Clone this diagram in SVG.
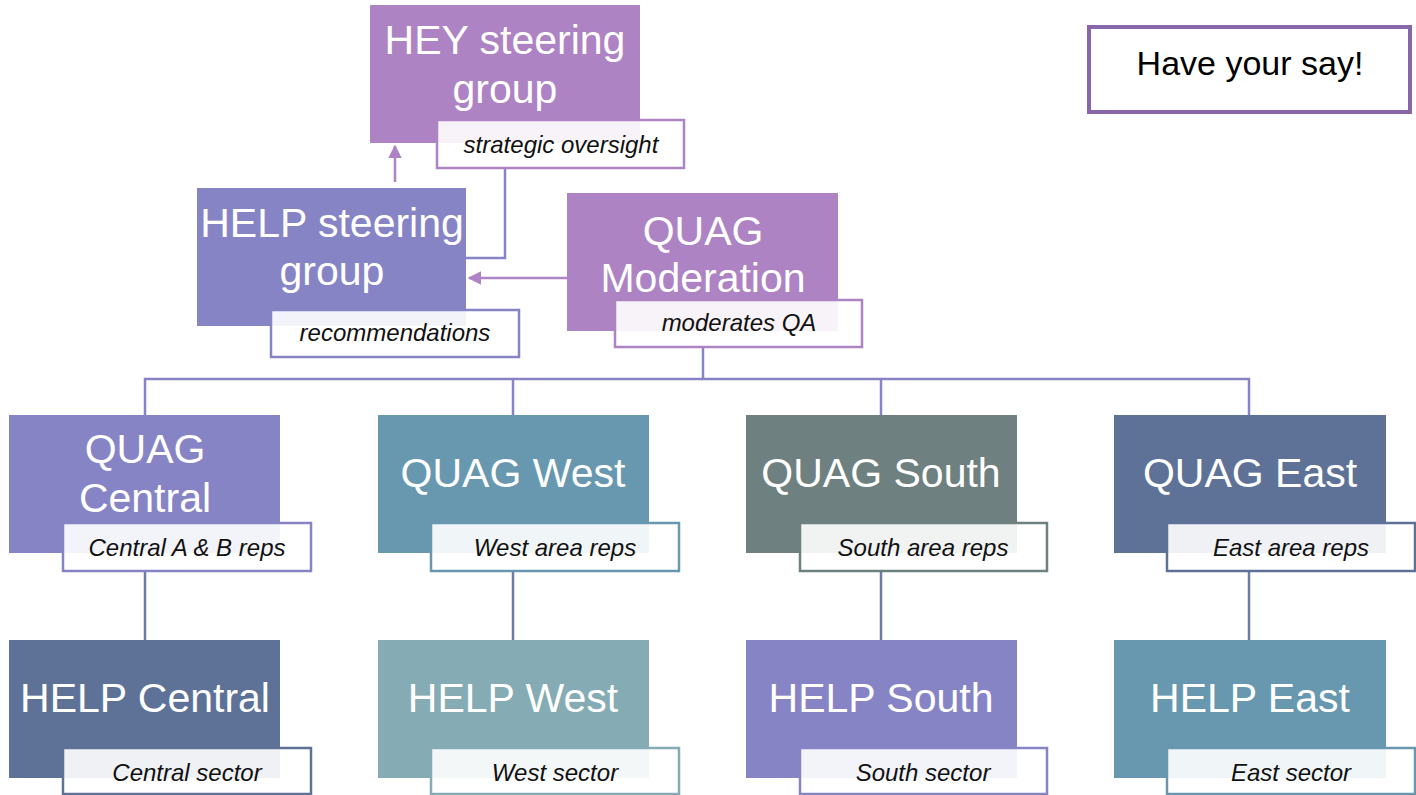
<svg xmlns="http://www.w3.org/2000/svg" width="1416" height="795" viewBox="0 0 1416 795">
<style>
.t{font-family:"Liberation Sans",Arial,sans-serif;font-size:41px;fill:#fff;text-anchor:middle}
.l{font-family:"Liberation Sans",Arial,sans-serif;font-size:24px;font-style:italic;fill:#111;text-anchor:middle}
.lb{fill:#fff;fill-opacity:0.9;stroke-width:2.5}
.c{fill:none;stroke-width:2.5}
</style>
<defs>
<marker id="ah" viewBox="0 0 10 10" refX="9" refY="5" markerWidth="5.5" markerHeight="5.5" orient="auto-start-reverse" markerUnits="strokeWidth">
<path d="M0,0 L10,5 L0,10 z" fill="#AD83C4"/>
</marker>
</defs>
<rect width="1416" height="795" fill="#fff"/>

<g id="connectors">
<line class="c" x1="395" y1="182" x2="395" y2="146" stroke="#AD83C4" marker-end="url(#ah)"/>
<polyline class="c" points="505,168 505,258 466,258" stroke="#8784C6"/>
<line class="c" x1="567" y1="278" x2="469" y2="278" stroke="#AD83C4" marker-end="url(#ah)"/>
<polyline class="c" points="703,347 703,379" stroke="#8784C6"/>
<polyline class="c" points="145,415 145,379 1249,379 1249,415" stroke="#8784C6"/>
<line class="c" x1="513" y1="379" x2="513" y2="415" stroke="#8784C6"/>
<line class="c" x1="881" y1="379" x2="881" y2="415" stroke="#8784C6"/>
<line class="c" x1="145" y1="572" x2="145" y2="640" stroke="#6A7BA4"/>
<line class="c" x1="513" y1="572" x2="513" y2="640" stroke="#6A7BA4"/>
<line class="c" x1="881" y1="572" x2="881" y2="640" stroke="#6A7BA4"/>
<line class="c" x1="1249" y1="572" x2="1249" y2="640" stroke="#6A7BA4"/>
</g>

<g id="hey-steering">
<rect x="370" y="5" width="270" height="138" fill="#AD83C4"/>
<text class="t" x="505" y="54">HEY steering</text>
<text class="t" x="505" y="103">group</text>
<rect class="lb" x="437" y="120" width="247" height="48" stroke="#AD83C4"/>
<text class="l" x="561" y="153">strategic oversight</text>
</g>

<g id="help-steering">
<rect x="197" y="188" width="269" height="138" fill="#8784C6"/>
<text class="t" x="332" y="237">HELP steering</text>
<text class="t" x="332" y="285">group</text>
<rect class="lb" x="271" y="310" width="248" height="47" stroke="#8784C6"/>
<text class="l" x="395" y="341">recommendations</text>
</g>

<g id="quag-moderation">
<rect x="567" y="193" width="271" height="138" fill="#AD83C4"/>
<text class="t" x="703" y="245">QUAG</text>
<text class="t" x="703" y="292">Moderation</text>
<rect class="lb" x="615" y="300" width="247" height="47" stroke="#AD83C4"/>
<text class="l" x="739" y="331">moderates QA</text>
</g>

<g id="quag-central">
<rect x="9" y="415" width="271" height="138" fill="#8784C6"/>
<text class="t" x="145" y="463">QUAG</text>
<text class="t" x="145" y="512">Central</text>
<rect class="lb" x="63" y="523" width="248" height="48" stroke="#8784C6"/>
<text class="l" x="187" y="556">Central A &amp; B reps</text>
</g>

<g id="quag-west">
<rect x="378" y="415" width="271" height="138" fill="#6898AF"/>
<text class="t" x="513" y="487">QUAG West</text>
<rect class="lb" x="431" y="523" width="248" height="48" stroke="#6898AF"/>
<text class="l" x="555" y="556">West area reps</text>
</g>

<g id="quag-south">
<rect x="746" y="415" width="271" height="138" fill="#6E8080"/>
<text class="t" x="881" y="487">QUAG South</text>
<rect class="lb" x="800" y="523" width="247" height="48" stroke="#6E8080"/>
<text class="l" x="923" y="556">South area reps</text>
</g>

<g id="quag-east">
<rect x="1114" y="415" width="272" height="138" fill="#5E7298"/>
<text class="t" x="1250" y="487">QUAG East</text>
<rect class="lb" x="1167" y="523" width="248" height="48" stroke="#5E7298"/>
<text class="l" x="1291" y="556">East area reps</text>
</g>

<g id="help-central">
<rect x="9" y="640" width="271" height="138" fill="#5E7298"/>
<text class="t" x="145" y="712">HELP Central</text>
<rect class="lb" x="63" y="748" width="248" height="46" stroke="#5E7298"/>
<text class="l" x="187" y="781">Central sector</text>
</g>

<g id="help-west">
<rect x="378" y="640" width="271" height="138" fill="#85ACB4"/>
<text class="t" x="513" y="712">HELP West</text>
<rect class="lb" x="431" y="748" width="248" height="46" stroke="#85ACB4"/>
<text class="l" x="555" y="781">West sector</text>
</g>

<g id="help-south">
<rect x="746" y="640" width="271" height="138" fill="#8784C6"/>
<text class="t" x="881" y="712">HELP South</text>
<rect class="lb" x="800" y="748" width="247" height="46" stroke="#8784C6"/>
<text class="l" x="923" y="781">South sector</text>
</g>

<g id="help-east">
<rect x="1114" y="640" width="272" height="138" fill="#6898AF"/>
<text class="t" x="1250" y="712">HELP East</text>
<rect class="lb" x="1167" y="748" width="248" height="46" stroke="#6898AF"/>
<text class="l" x="1291" y="781">East sector</text>
</g>

<g id="have-your-say">
<rect x="1089" y="27" width="321" height="85" fill="#fff" stroke="#8766A9" stroke-width="4"/>
<text x="1250" y="75" style="font-family:'Liberation Sans',Arial,sans-serif;font-size:34px;fill:#000;text-anchor:middle">Have your say!</text>
</g>
</svg>
